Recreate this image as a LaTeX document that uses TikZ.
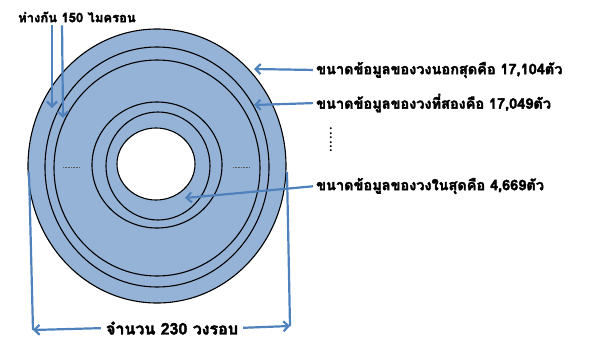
\documentclass[tikz,border=0pt]{standalone}
\usepackage{fontspec}
\newfontfamily\thaifont[Script=Thai, FakeBold=2.5]{Loma}
\usepackage{tikz}
\usetikzlibrary{arrows.meta, positioning, calc}
\definecolor{discblue}{RGB}{149,179,215}
\definecolor{arrowblue}{RGB}{79,129,189}
\tikzset{
  thailabel/.style={
    font=\thaifont\bfseries\fontsize{14.5}{16}\selectfont,
    inner sep=0pt, anchor=west
  },
  ring/.style={draw=black, line width=1.1pt},
  pointer/.style={line width=2.2pt, -{Straight Barb[length=5pt,width=10pt]}, color=arrowblue},
  guide/.style={line width=2.2pt, color=arrowblue},
  tick/.style={densely dotted, gray!70!black, line width=0.6pt},
}
\begin{document}
\begin{tikzpicture}[x=1pt, y=-1pt]
  \useasboundingbox (0,0) rectangle (597,343);

  % disc and tracks
  \fill[discblue] (157,166) ellipse [x radius=129pt, y radius=137pt];
  \draw[ring] (157,166) ellipse [x radius=129pt, y radius=137pt];
  \draw[ring] (157,167) ellipse [x radius=112pt, y radius=120pt];
  \draw[ring] (157,168) ellipse [x radius=103pt, y radius=108pt];
  \draw[ring] (157,165) ellipse [x radius=65pt, y radius=63pt];
  \draw[ring] (158,166) ellipse [x radius=52pt, y radius=54pt];
  \filldraw[fill=white, ring] (156,164) ellipse [x radius=39pt, y radius=36pt];
  \draw[tick] (63,167) -- (80,167);
  \draw[tick] (233,167) -- (250,167);

  % labels
  \node[thailabel, font=\thaifont\bfseries\fontsize{13}{15}\selectfont] (gap) at (18,17) {ห่างกัน 150 ไมครอน};
  \node[thailabel] (outer)  at (316,70) {ขนาดข้อมูลของวงนอกสุดคือ 17,104ตัว};
  \node[thailabel] (second) at (316,103) {ขนาดข้อมูลของวงที่สองคือ 17,049ตัว};
  \node[thailabel] (inner)  at (316,186) {ขนาดข้อมูลของวงในสุดคือ 4,669ตัว};
  \node[thailabel, anchor=center, font=\thaifont\bfseries\fontsize{16}{18}\selectfont] (count) at (172,328) {จำนวน 230 วงรอบ};
  \node[font=\bfseries\fontsize{14}{16}\selectfont, rotate=-90, inner sep=0pt] (more) at (331,140) {......};

  % pointers
  \coordinate (outerhit)  at (254,69);
  \coordinate (secondhit) at (254,105);
  \coordinate (innerhit)  at (185,198);
  \coordinate (gapA)      at (52,108);
  \coordinate (gapB)      at (63,118);
  \draw[pointer, shorten <=3pt] (outer.west)  -- (outerhit);
  \draw[pointer, shorten <=3pt] (second.west) -- (secondhit);
  \draw[pointer, shorten <=3pt] (inner.west)  -- (innerhit);
  \draw[pointer, shorten <=3pt] (gap.south -| gapA) -- (gapA);
  \draw[pointer, shorten <=3pt] ([xshift=-1pt]gap.south -| gapB) -- (gapB);

  % width of the band
  \coordinate (leftedge)    at (29,172);
  \coordinate (rightedge)   at (287,172);
  \coordinate (leftcorner)  at (33,330);
  \coordinate (rightcorner) at (290,326);
  \draw[guide] (leftedge) -- (leftcorner);
  \draw[guide] (rightedge) -- (rightcorner);
  \draw[pointer, shorten <=5pt] (count.west) -- (leftcorner);
  \draw[pointer, shorten <=5pt] (count.east) -- (rightcorner);
\end{tikzpicture}
\end{document}
